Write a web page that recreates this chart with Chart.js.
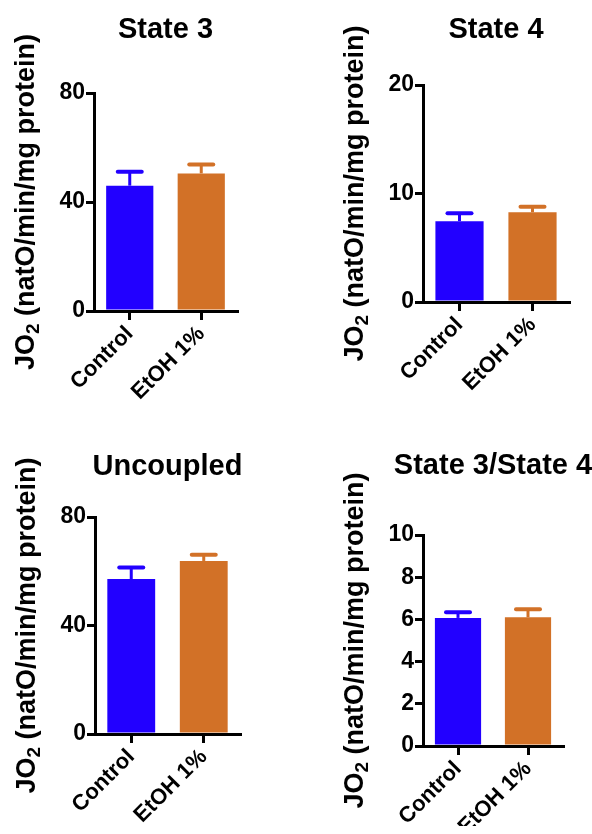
<!DOCTYPE html>
<html>
<head>
<meta charset="utf-8">
<script src="https://cdn.jsdelivr.net/npm/chart.js@4.4.1/dist/chart.umd.min.js"></script>
<style>
  html, body { margin: 0; padding: 0; background: #fff; }
  #wrap { position: relative; width: 592px; height: 834px; background: #fff; }
  .panel { position: absolute; width: 296px; height: 417px; }
  .panel canvas { display: block; }
</style>
</head>
<body>
<div id="wrap">
  <div class="panel" style="left:0;top:0"><canvas id="c0" width="296" height="417"></canvas></div>
  <div class="panel" style="left:296px;top:0"><canvas id="c1" width="296" height="417"></canvas></div>
  <div class="panel" style="left:0;top:417px"><canvas id="c2" width="296" height="417"></canvas></div>
  <div class="panel" style="left:296px;top:417px"><canvas id="c3" width="296" height="417"></canvas></div>
</div>
<script>
// Groups and measurements (mean and SEM) for each respiration state
const groups = ['Control', 'EtOH 1%'];
const panelTitles = ['State 3', 'State 4', 'Uncoupled', 'State 3/State 4'];

const state3Mean = [46.0, 50.5];
const state3Sem = [5.1, 3.3];
const state4Mean = [7.45, 8.27];
const state4Sem = [0.72, 0.52];
const uncoupledMean = [57.1, 63.8];
const uncoupledSem = [4.3, 2.3];
const ratioMean = [6.07, 6.1];
const ratioSem = [0.27, 0.38];

const yMaxes = [80, 20, 80, 10];
const ySteps = [40, 10, 40, 2];

const barColors = ['#2200ff', '#d27127'];
const FONT = '"Liberation Sans", Arial, Helvetica, sans-serif';

// Layout of each panel: padding around plot area, axis sizes, title baseline
const layouts = [
  { pad: { left: 34, right: 59, top: 93, bottom: 16 }, yW: 60, xH: 90, titleY: 38 },
  { pad: { left: 67, right: 23, top: 85, bottom: 25 }, yW: 60, xH: 90, titleY: 38 },
  { pad: { left: 35, right: 56, top: 100, bottom: 10 }, yW: 60, xH: 90, titleY: 58 },
  { pad: { left: 67, right: 29, top: 118, bottom: 8 },  yW: 60, xH: 80, titleY: 57 }
];

const means = [state3Mean, state4Mean, uncoupledMean, ratioMean];
const sems = [state3Sem, state4Sem, uncoupledSem, ratioSem];

// Upward-only error bars with a short cap
const errorBars = {
  id: 'errorBars',
  afterDatasetsDraw(chart, args, opts) {
    const ctx = chart.ctx;
    const y = chart.scales.y;
    const meta = chart.getDatasetMeta(0);
    meta.data.forEach((bar, i) => {
      const m = opts.mean[i], e = opts.sem[i];
      const yTop = y.getPixelForValue(m + e);
      const yBase = y.getPixelForValue(m);
      ctx.save();
      ctx.strokeStyle = barColors[i];
      ctx.lineWidth = 3;
      ctx.beginPath();
      ctx.moveTo(bar.x, yBase);
      ctx.lineTo(bar.x, yTop);
      ctx.stroke();
      ctx.lineWidth = 4;
      ctx.lineCap = 'round';
      ctx.beginPath();
      ctx.moveTo(bar.x - 12, yTop);
      ctx.lineTo(bar.x + 12, yTop);
      ctx.stroke();
      ctx.restore();
    });
  }
};

// Panel title and the rotated y-axis title with subscript
const panelText = {
  id: 'panelText',
  afterDraw(chart, args, opts) {
    const ctx = chart.ctx;
    const a = chart.chartArea;
    ctx.save();
    ctx.fillStyle = '#000';
    ctx.font = 'bold 29px ' + FONT;
    ctx.textAlign = 'center';
    ctx.textBaseline = 'alphabetic';
    ctx.fillText(opts.title, (a.left + a.right) / 2, opts.titleY);

    // y-axis title: JO₂ (natO/min/mg protein)
    const big = 'bold 27px ' + FONT;
    const small = 'bold 19px ' + FONT;
    const p1 = 'JO', p2 = '2', p3 = ' (natO/min/mg protein)';
    ctx.font = big;
    const w1 = ctx.measureText(p1).width;
    const w3 = ctx.measureText(p3).width;
    ctx.font = small;
    const w2 = ctx.measureText(p2).width;
    const total = w1 + w2 + w3;
    ctx.translate(a.left - 67, (a.top + a.bottom) / 2);
    ctx.rotate(-Math.PI / 2);
    ctx.textAlign = 'left';
    ctx.textBaseline = 'middle';
    let x = -total / 2;
    ctx.font = big;
    ctx.fillText(p1, x, 0);
    x += w1;
    ctx.font = small;
    ctx.fillText(p2, x, 7);
    x += w2;
    ctx.font = big;
    ctx.fillText(p3, x, 0);
    ctx.restore();
  }
};

panelTitles.forEach((title, k) => {
  const L = layouts[k];
  new Chart(document.getElementById('c' + k), {
    type: 'bar',
    data: {
      labels: groups,
      datasets: [{
        data: means[k],
        backgroundColor: barColors,
        borderWidth: 0,
        categoryPercentage: 1,
        barPercentage: 0.66
      }]
    },
    options: {
      responsive: false,
      animation: false,
      layout: { padding: L.pad },
      plugins: {
        legend: { display: false },
        tooltip: { enabled: false },
        title: { display: false },
        errorBars: { mean: means[k], sem: sems[k] },
        panelText: { title: title, titleY: L.titleY }
      },
      scales: {
        x: {
          afterFit: s => { s.height = L.xH; },
          grid: { offset: false, drawOnChartArea: false, drawTicks: true, tickLength: 9, lineWidth: 3, color: '#000' },
          border: { display: true, width: 3, color: '#000' },
          ticks: {
            color: '#000',
            font: { family: FONT, size: 22, weight: 'bold' },
            minRotation: 45,
            maxRotation: 45,
            autoSkip: false,
            padding: 1
          }
        },
        y: {
          min: 0,
          max: yMaxes[k],
          afterFit: s => { s.width = L.yW; },
          grid: { drawOnChartArea: false, drawTicks: true, tickLength: 8, lineWidth: 3, color: '#000' },
          border: { display: true, width: 3, color: '#000' },
          ticks: {
            stepSize: ySteps[k],
            color: '#000',
            font: { family: FONT, size: 23, weight: 'bold' },
            padding: 1
          }
        }
      }
    },
    plugins: [errorBars, panelText]
  });
});
</script>
</body>
</html>
